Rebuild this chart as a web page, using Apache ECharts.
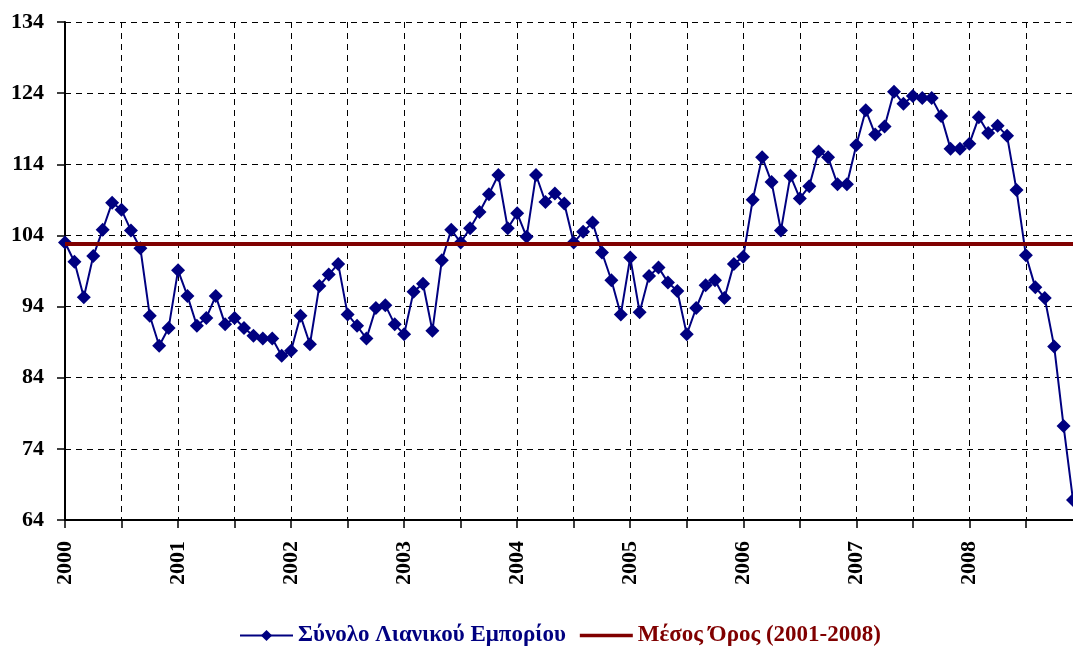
<!DOCTYPE html>
<html>
<head>
<meta charset="utf-8">
<script src="https://cdn.jsdelivr.net/npm/echarts@6/dist/echarts.min.js"></script>
<style>
  html, body { margin: 0; padding: 0; background: #fff; }
  #chart { width: 1073px; height: 648px; }
</style>
</head>
<body>
<div id="chart"></div>
<script>
const years = ["2000", "2001", "2002", "2003", "2004", "2005", "2006", "2007", "2008"];

// monthly index values, one row per year
const retail2000 = [103.0, 100.3, 95.3, 101.1, 104.8, 108.6, 107.6, 104.7, 102.2, 92.7, 88.5, 91.0];
const retail2001 = [99.1, 95.5, 91.3, 92.4, 95.5, 91.5, 92.4, 91.0, 89.9, 89.5, 89.5, 87.1];
const retail2002 = [87.8, 92.7, 88.7, 96.9, 98.5, 100.0, 92.9, 91.3, 89.5, 93.8, 94.2, 91.5];
const retail2003 = [90.1, 96.1, 97.2, 90.6, 100.5, 104.8, 103.0, 105.0, 107.3, 109.8, 112.5, 105.0];
const retail2004 = [107.1, 103.8, 112.5, 108.7, 109.9, 108.5, 103.0, 104.5, 105.8, 101.6, 97.7, 92.9];
const retail2005 = [100.9, 93.2, 98.3, 99.5, 97.4, 96.2, 90.1, 93.8, 97.0, 97.7, 95.2, 100.0];
const retail2006 = [101.0, 109.0, 115.0, 111.5, 104.7, 112.4, 109.2, 110.9, 115.8, 115.0, 111.2, 111.2];
const retail2007 = [116.7, 121.6, 118.2, 119.3, 124.2, 122.5, 123.6, 123.3, 123.3, 120.8, 116.2, 116.2];
const retail2008 = [116.9, 120.6, 118.4, 119.4, 118.0, 110.4, 101.2, 96.7, 95.2, 88.4, 77.2, 66.8];

const meanValue = 102.8;

const retailName = "Σύνολο Λιανικού Εμπορίου";
const meanName = "Μέσος Όρος (2001-2008)";

const retail = [].concat(retail2000, retail2001, retail2002, retail2003, retail2004,
  retail2005, retail2006, retail2007, retail2008);

const months = [];
years.forEach((y) => {
  for (let m = 1; m <= 12; m++) months.push(y + "-" + (m < 10 ? "0" + m : m));
});

const font = "'Liberation Serif', 'Times New Roman', serif";
const dash = [6, 5];

const chart = echarts.init(document.getElementById("chart"));

chart.setOption({
  animation: false,
  grid: { left: 65, right: 0, top: 22, bottom: 128, containLabel: false },
  legend: {
    top: 619,
    left: 234,
    itemWidth: 53,
    itemHeight: 14,
    itemGap: 14,
    textStyle: { fontFamily: font, fontWeight: "bold", fontSize: 23 },
    data: [
      { name: retailName, textStyle: { color: "#000080" } },
      {
        name: meanName,
        icon: "path://M0,0 H60 V4 H0 Z",
        textStyle: { color: "#800000" },
      },
    ],
  },
  xAxis: {
    type: "category",
    boundaryGap: false,
    data: months,
    axisLine: { lineStyle: { color: "#000", width: 2 } },
    axisTick: {
      show: true,
      length: 8,
      interval: (i) => i % 6 === 0,
      lineStyle: { color: "#000", width: 1.5 },
    },
    axisLabel: {
      interval: (i) => i % 12 === 0,
      rotate: 90,
      margin: 21,
      color: "#000",
      fontFamily: font,
      fontWeight: "bold",
      fontSize: 22,
      formatter: (v) => v.slice(0, 4),
    },
    splitLine: {
      show: true,
      interval: (i) => i % 6 === 0 && i > 0,
      lineStyle: { color: "#000", type: dash, width: 1 },
    },
  },
  yAxis: {
    type: "value",
    min: 64,
    max: 134,
    interval: 10,
    axisLine: { show: true, lineStyle: { color: "#000", width: 2 } },
    axisTick: { show: true, length: 8, lineStyle: { color: "#000", width: 1.5 } },
    axisLabel: {
      margin: 21,
      color: "#000",
      fontFamily: font,
      fontWeight: "bold",
      fontSize: 22,
    },
    splitLine: { show: true, lineStyle: { color: "#000", type: dash, width: 1 } },
  },
  series: [
    {
      name: meanName,
      type: "line",
      data: [],
      z: 1,
      symbol: "none",
      itemStyle: { color: "#800000" },
      lineStyle: { color: "#800000", width: 4 },
      markLine: {
        silent: true,
        symbol: "none",
        label: { show: false },
        lineStyle: { color: "#800000", width: 4, type: "solid" },
        data: [{ yAxis: meanValue }],
      },
    },
    {
      name: retailName,
      type: "line",
      data: retail,
      z: 3,
      symbol: "diamond",
      symbolSize: 14,
      showAllSymbol: true,
      itemStyle: { color: "#000080" },
      lineStyle: { color: "#000080", width: 2 },
    },
  ],
});
</script>
</body>
</html>
